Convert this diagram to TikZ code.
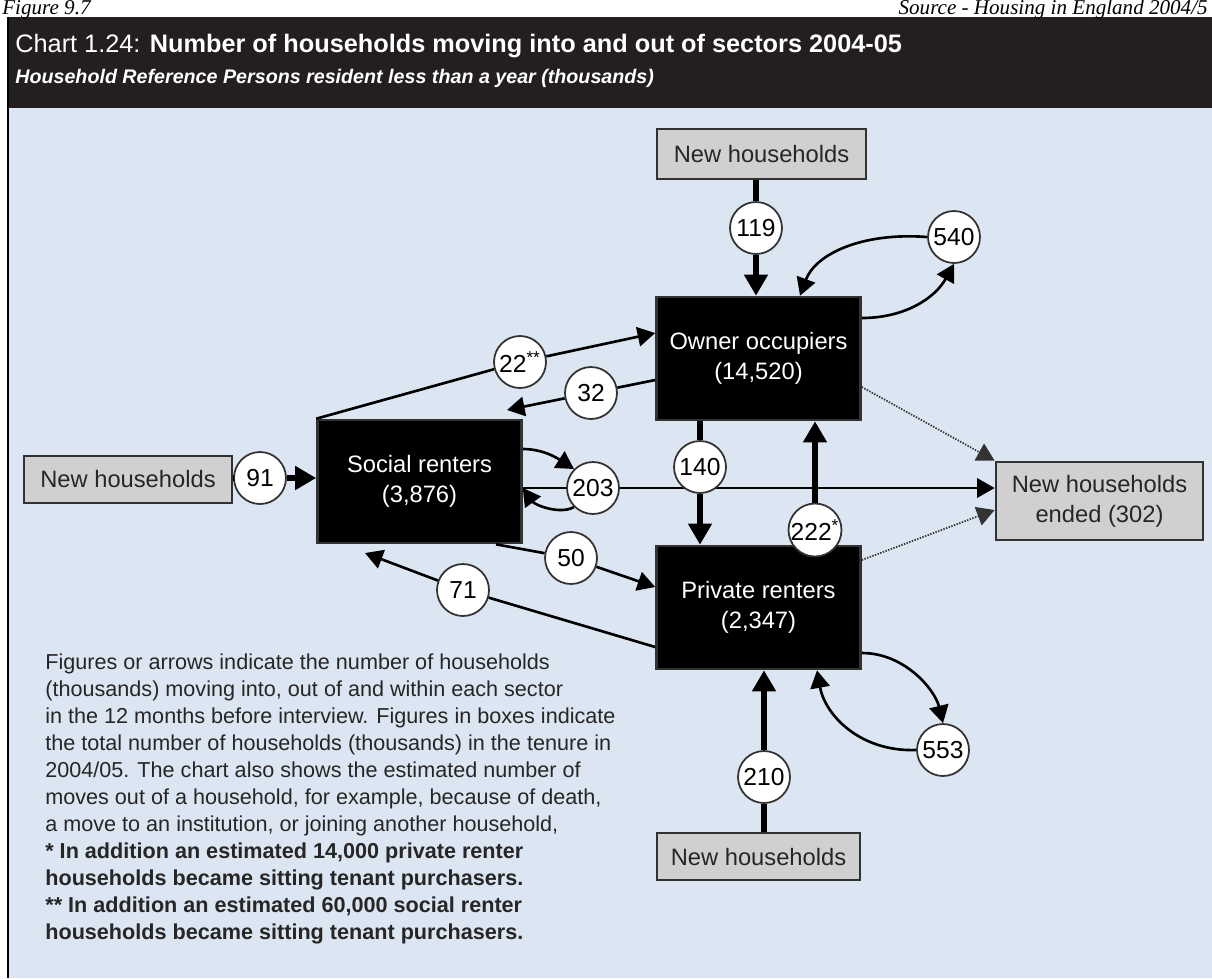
\documentclass[tikz,border=0pt]{standalone}
\usepackage{fontspec}
\setmainfont{Liberation Sans}
\newfontfamily\headfont{Liberation Serif}
\usetikzlibrary{arrows.meta}

\definecolor{panelblue}{RGB}{220,230,242}
\definecolor{headblack}{RGB}{35,31,32}
\definecolor{boxgrey}{RGB}{208,208,208}
\definecolor{edgegrey}{RGB}{50,50,50}

\tikzset{
  tenure/.style={draw=edgegrey,line width=1.5pt,fill=black,text=white,minimum width=4.08cm,minimum height=2.46cm,align=center,inner sep=0pt,font=\fontsize{13.5}{17}\selectfont},
  newhh/.style={draw=edgegrey,line width=1.6pt,fill=boxgrey,text=black!85,align=center,inner sep=0pt,font=\fontsize{13.5}{17}\selectfont},
  count/.style={circle,draw=edgegrey,line width=1pt,fill=white,minimum size=1.04cm,inner sep=0pt,font=\fontsize{14}{16}\selectfont},
  flowline/.style={line width=1.5pt,-{Triangle[length=10pt,width=11pt]}},
  bigflow/.style={line width=3.4pt,-{Triangle[length=12pt,width=13pt]}},
  endflow/.style={line width=1pt,black!80,dash pattern=on 0.8pt off 0.8pt,-{Triangle[length=10pt,width=11pt]}}
}

\begin{document}
\begin{tikzpicture}[x=0.02cm,y=-0.02cm]
\useasboundingbox (0,0) rectangle (1212,978);
\clip (0,0) rectangle (1212,978);
\fill[white] (0,0) rectangle (1212,978);
\fill[headblack] (7,17) rectangle (1212,108);
\node[anchor=base west,inner sep=0pt,font=\headfont\itshape\fontsize{12}{14}\selectfont] (fig) at (2,14) {Figure 9.7};
\node[anchor=base east,inner sep=0pt,font=\headfont\itshape\fontsize{12}{14}\selectfont] (src) at (1208,14) {Source - Housing in England 2004/5};
\fill[panelblue] (9,108) rectangle (1212,978);
\draw[line width=1.2pt] (8,17) -- (8,978);

\node[anchor=west,inner sep=0pt,text=white,font=\fontsize{14.4}{16}\selectfont] (title) at (15,46) {Chart 1.24: \textbf{Number of households moving into and out of sectors 2004-05}};
\node[anchor=west,inner sep=0pt,text=white,font=\fontsize{11.2}{13}\selectfont\bfseries\itshape] (subtitle) at (15,78) {Household Reference Persons resident less than a year (thousands)};

\node[tenure] (owner) at (758.5,358.5) {Owner occupiers\\(14,520)};
\node[tenure] (social) at (419.5,481.5) {Social renters\\(3,876)};
\node[tenure] (private) at (758.5,607.5) {Private renters\\(2,347)};
\node[newhh,minimum width=4.18cm,minimum height=1.0cm] (nhtop) at (761.5,154) {New households};
\node[newhh,minimum width=4.16cm,minimum height=0.94cm] (nhleft) at (128,479.5) {New households};
\node[newhh,minimum width=4.06cm,minimum height=0.94cm] (nhbot) at (758.5,856.5) {New households};
\node[newhh,minimum width=4.14cm,minimum height=1.56cm] (ended) at (1099.5,501) {New households\\ended (302)};

\draw[flowline] (social.east |- 0,488) -- (ended.west |- 0,488);

\foreach \name/\x/\y/\val in {c119/756/228/119,c540/954/237/540,c22/520/362/{22\textsuperscript{**}},c32/591/393/32,c91/260/478/91,c203/593/488/203,c140/700/467/140,c222/815/530/{222\textsuperscript{*}},c50/571/558/50,c71/463/590/71,c210/764/777/210,c553/943/750/553}
  \node[count] (\name) at (\x,\y) {\val};

\coordinate (socialtop) at (507,410);
\coordinate (socialtip) at (365,553);

\draw[bigflow,-] (nhtop.south -| c119) -- (c119);
\draw[bigflow] (c119) -- (owner.north -| c119);
\draw[bigflow,-] (nhleft.east |- c91) -- (c91);
\draw[bigflow] (c91) -- (social.west |- c91);
\draw[bigflow,-] (nhbot.north -| c210) -- (c210);
\draw[bigflow] (c210) -- (private.south -| c210);
\draw[bigflow,-] (owner.south -| c140) -- (c140);
\draw[bigflow] (c140) -- (private.north -| c140);
\draw[bigflow] (c222) -- (owner.south -| c222);

\draw[flowline,-] (social.north west) -- (c22);
\draw[flowline] (c22) -- (owner.west |- 0,333);
\draw[flowline,-] (owner.west |- 0,380) -- (c32);
\draw[flowline] (c32) -- (socialtop);
\draw[flowline,-] (social.south -| 496,0) -- (c50);
\draw[flowline] (c50) -- (private.west |- 0,587);
\draw[flowline,-] (private.west |- 0,647) -- (c71);
\draw[flowline] (c71) -- (socialtip);

\draw[flowline] (owner.east |- 0,318) .. controls (905,318) and (935,298) .. (c540.south);
\draw[flowline] (c540.west) .. controls (860,232) and (815,255) .. (owner.north -| 800,0);
\draw[flowline] (social.east |- 0,449) .. controls (545,449) and (560,460) .. (c203.north west);
\draw[flowline] (c203.south west) .. controls (560,515) and (535,505) .. (social.east |- 0,488);
\draw[flowline] (private.east |- 0,653) .. controls (905,653) and (935,690) .. (c553.north);
\draw[flowline] (c553.west) .. controls (860,752) and (825,715) .. (private.south -| 817,0);

\draw[endflow] (owner.east |- 0,387) -- (ended.north west);
\draw[endflow] (private.east |- 0,560) -- (ended.west |- 0,510);

\node[anchor=north west,align=left,inner sep=0pt,text=black!85,font=\fontsize{12.3}{15.4}\selectfont] (note) at (45,653) {Figures or arrows indicate the number of households\\(thousands) moving into, out of and within each sector\\in the 12 months before interview. Figures in boxes indicate\\the total number of households (thousands) in the tenure in\\2004/05. The chart also shows the estimated number of\\moves out of a household, for example, because of death,\\a move to an institution, or joining another household,\\\textbf{* In addition an estimated 14,000 private renter}\\\textbf{households became sitting tenant purchasers.}\\\textbf{** In addition an estimated 60,000 social renter}\\\textbf{households became sitting tenant purchasers.}};
\end{tikzpicture}
\end{document}
